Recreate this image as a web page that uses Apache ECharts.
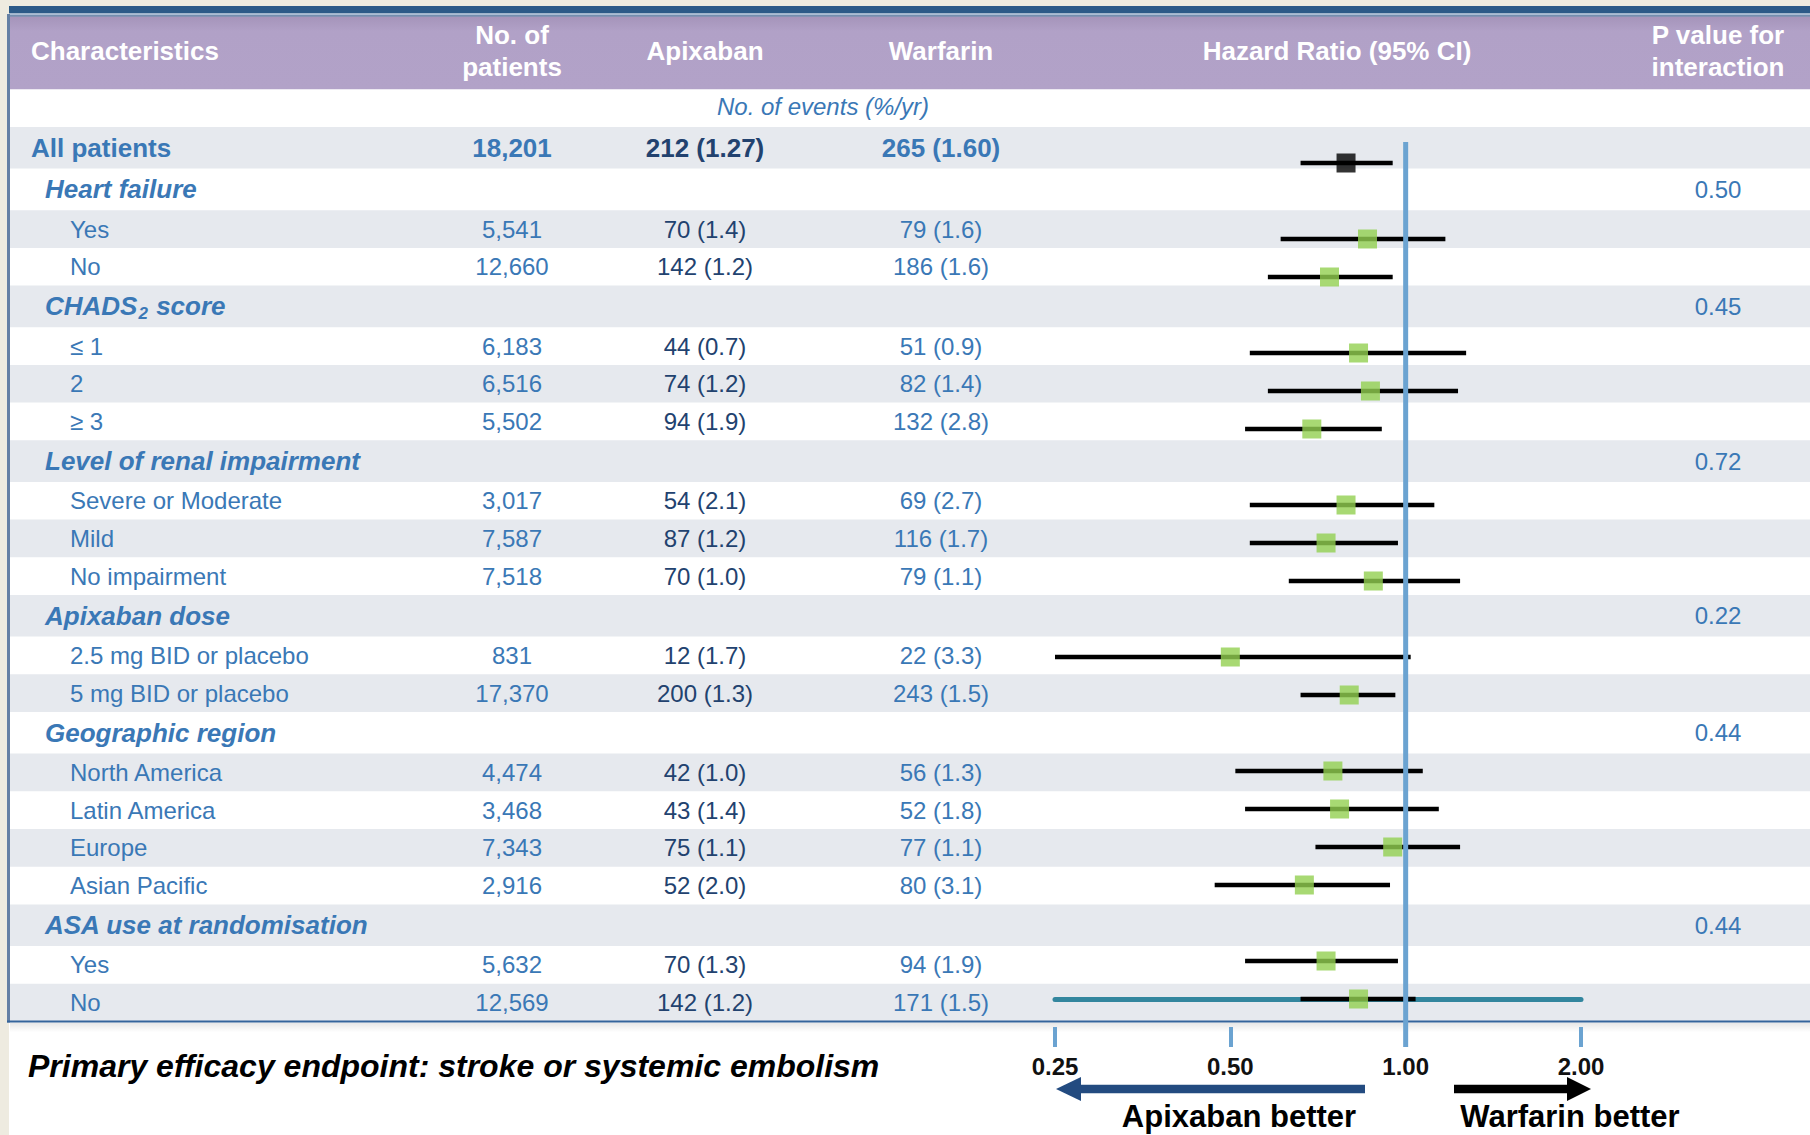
<!DOCTYPE html>
<html>
<head>
<meta charset="utf-8">
<title>Apixaban vs warfarin – subgroup analysis</title>
<script src="https://cdn.jsdelivr.net/npm/echarts@6/dist/echarts.min.js"></script>
<style>
  html, body { margin: 0; padding: 0; background: #ffffff; }
  #chart { width: 1810px; height: 1135px; }
</style>
</head>
<body>
<div id="chart"></div>
<script>
// ---------- data ----------
// {x} marks a subscript part of a label
const rowLabels = ['All patients', 'Heart failure', 'Yes', 'No', 'CHADS{2} score', '≤ 1', '2', '≥ 3',
  'Level of renal impairment', 'Severe or Moderate', 'Mild', 'No impairment',
  'Apixaban dose', '2.5 mg BID or placebo', '5 mg BID or placebo',
  'Geographic region', 'North America', 'Latin America', 'Europe', 'Asian Pacific',
  'ASA use at randomisation', 'Yes', 'No'];
const rowKinds = ['total', 'group', 'sub', 'sub', 'group', 'sub', 'sub', 'sub',
  'group', 'sub', 'sub', 'sub', 'group', 'sub', 'sub',
  'group', 'sub', 'sub', 'sub', 'sub', 'group', 'sub', 'sub'];
const patients = ['18,201', '', '5,541', '12,660', '', '6,183', '6,516', '5,502',
  '', '3,017', '7,587', '7,518', '', '831', '17,370',
  '', '4,474', '3,468', '7,343', '2,916', '', '5,632', '12,569'];
const apixabanEvents = ['212 (1.27)', '', '70 (1.4)', '142 (1.2)', '', '44 (0.7)', '74 (1.2)', '94 (1.9)',
  '', '54 (2.1)', '87 (1.2)', '70 (1.0)', '', '12 (1.7)', '200 (1.3)',
  '', '42 (1.0)', '43 (1.4)', '75 (1.1)', '52 (2.0)', '', '70 (1.3)', '142 (1.2)'];
const warfarinEvents = ['265 (1.60)', '', '79 (1.6)', '186 (1.6)', '', '51 (0.9)', '82 (1.4)', '132 (2.8)',
  '', '69 (2.7)', '116 (1.7)', '79 (1.1)', '', '22 (3.3)', '243 (1.5)',
  '', '56 (1.3)', '52 (1.8)', '77 (1.1)', '80 (3.1)', '', '94 (1.9)', '171 (1.5)'];
const pInteraction = ['', '0.50', '', '', '0.45', '', '', '', '0.72', '', '', '', '0.22', '', '',
  '0.44', '', '', '', '', '0.44', '', ''];
const hazardRatio = [0.79, null, 0.86, 0.74, null, 0.83, 0.87, 0.69, null, 0.79, 0.73, 0.88, null, 0.50, 0.80,
  null, 0.75, 0.77, 0.95, 0.67, null, 0.73, 0.83];
const ciLower = [0.66, null, 0.61, 0.58, null, 0.54, 0.58, 0.53, null, 0.54, 0.54, 0.63, null, 0.25, 0.66,
  null, 0.51, 0.53, 0.70, 0.47, null, 0.53, 0.66];
const ciUpper = [0.95, null, 1.17, 0.95, null, 1.27, 1.23, 0.91, null, 1.12, 0.97, 1.24, null, 1.02, 0.96,
  null, 1.07, 1.14, 1.24, 0.94, null, 0.97, 1.04];
const tickValues = [0.25, 0.5, 1, 2];
const tickLabels = ['0.25', '0.50', '1.00', '2.00'];
const referenceHR = 1;

// ---------- style ----------
const FONT = '"Liberation Sans", Arial, Helvetica, sans-serif';
const BLUE = '#3A78B6';
const NAVY = '#22426F';
const STRIPE = '#E6E9EE';
const W = 1810, H = 1135;
const LEFT = 10;
const BODY_TOP = 127;
const GROUP_H = 41.6, SUB_H = 37.7;
const COL = { label: 31, group: 45, sub: 70, patients: 512, apix: 705, warf: 941, hr: 1337, p: 1718 };

const measureCtx = document.createElement('canvas').getContext('2d');
function textWidth(str, font) { measureCtx.font = font; return measureCtx.measureText(str).width; }

function rect(x, y, w, h, fill, z) {
  return { type: 'rect', silent: true, z: z || -50, shape: { x, y, width: w, height: h }, style: { fill } };
}
function text(str, x, y, o) {
  return {
    type: 'text', silent: true, z: 10, x, y,
    style: {
      text: str, fill: o.color || BLUE, fontSize: o.size || 24, fontWeight: o.weight || 'normal',
      fontStyle: o.style || 'normal', fontFamily: FONT, align: o.align || 'left', verticalAlign: 'middle'
    }
  };
}

// ---------- table layout ----------
const rowTops = [];
let yCursor = BODY_TOP;
rowKinds.forEach(k => { rowTops.push(yCursor); yCursor += (k === 'sub') ? SUB_H : GROUP_H; });
const BODY_BOTTOM = yCursor;
const rowHeight = i => (rowKinds[i] === 'sub' ? SUB_H : GROUP_H);

const g = [];
g.push(rect(0, 0, W, H, '#ffffff', -100));
g.push(rect(0, 0, 9, H, '#EEEBE0', -90));
g.push(rect(0, 0, W, 6, '#EEEBE0', -90));
// top band and header
g.push(rect(LEFT - 1, 6, W, 7.5, '#2C5A88', -80));
g.push(rect(LEFT - 1, 13.5, W, 1.8, '#A9BCD4', -80));
g.push(rect(LEFT - 1, 15.3, W, 1.4, '#4C6E98', -80));
g.push({
  type: 'rect', silent: true, z: -80, shape: { x: LEFT, y: 16.7, width: W, height: 72.6 },
  style: { fill: new echarts.graphic.LinearGradient(0, 0, 0, 1, [
    { offset: 0, color: '#A594BA' }, { offset: 0.2, color: '#B1A1C7' }, { offset: 1, color: '#B2A2C8' }]) }
});
// row stripes
rowTops.forEach((t, i) => { if (i % 2 === 0) g.push(rect(LEFT, t, W, rowHeight(i), STRIPE, -70)); });
// borders
g.push(rect(7, 14, 3, BODY_BOTTOM - 13, '#6580A4', -60));
g.push(rect(7, BODY_BOTTOM - 1, W, 2.2, '#34649B', -60));
g.push({
  type: 'rect', silent: true, z: -65, shape: { x: LEFT, y: BODY_BOTTOM + 1, width: W, height: 10 },
  style: { fill: new echarts.graphic.LinearGradient(0, 0, 0, 1, [
    { offset: 0, color: 'rgba(0,0,0,0.10)' }, { offset: 1, color: 'rgba(0,0,0,0)' }]) }
});

// header text
const HW = { color: '#ffffff', size: 26, weight: 'bold' };
g.push(text('Characteristics', COL.label, 51, HW));
g.push(text('No. of', COL.patients, 35, Object.assign({ align: 'center' }, HW)));
g.push(text('patients', COL.patients, 67, Object.assign({ align: 'center' }, HW)));
g.push(text('Apixaban', COL.apix, 51, Object.assign({ align: 'center' }, HW)));
g.push(text('Warfarin', COL.warf, 51, Object.assign({ align: 'center' }, HW)));
g.push(text('Hazard Ratio (95% CI)', COL.hr, 51, Object.assign({ align: 'center' }, HW)));
g.push(text('P value for', COL.p, 35, Object.assign({ align: 'center' }, HW)));
g.push(text('interaction', COL.p, 67, Object.assign({ align: 'center' }, HW)));
g.push(text('No. of events (%/yr)', (COL.apix + COL.warf) / 2, 106, { style: 'italic', align: 'center' }));

// body text
rowLabels.forEach((label, i) => {
  const cy = rowTops[i] + rowHeight(i) / 2;
  const kind = rowKinds[i];
  if (kind === 'total') {
    const b = { size: 26, weight: 'bold' };
    g.push(text(label, COL.label, cy, b));
    g.push(text(patients[i], COL.patients, cy, Object.assign({ align: 'center' }, b)));
    g.push(text(apixabanEvents[i], COL.apix, cy, Object.assign({ align: 'center', color: NAVY }, b)));
    g.push(text(warfarinEvents[i], COL.warf, cy, Object.assign({ align: 'center' }, b)));
  } else if (kind === 'group') {
    const gs = { size: 26, weight: 'bold', style: 'italic' };
    const m = label.match(/^(.*)\{(.*)\}(.*)$/);
    if (m) {
      const f = 'italic bold 26px "Liberation Sans"';
      const w1 = textWidth(m[1], f);
      const w2 = textWidth(m[2], 'italic bold 17px "Liberation Sans"');
      g.push(text(m[1], COL.group, cy, gs));
      g.push(text(m[2], COL.group + w1 + 1, cy + 7, { size: 17, weight: 'bold', style: 'italic' }));
      g.push(text(m[3], COL.group + w1 + w2 + 2, cy, gs));
    } else {
      g.push(text(label, COL.group, cy, gs));
    }
    if (pInteraction[i]) g.push(text(pInteraction[i], COL.p, cy, { align: 'center' }));
  } else {
    g.push(text(label, COL.sub, cy, {}));
    g.push(text(patients[i], COL.patients, cy, { align: 'center' }));
    g.push(text(apixabanEvents[i], COL.apix, cy, { align: 'center', color: NAVY }));
    g.push(text(warfarinEvents[i], COL.warf, cy, { align: 'center' }));
  }
});

// footnote and direction arrows
g.push(text('Primary efficacy endpoint: stroke or systemic embolism', 28, 1066,
  { size: 32, weight: 'bold', style: 'italic', color: '#000000' }));
const ARROW_Y = 1089;
g.push(rect(1079, ARROW_Y - 4.3, 286, 8.6, '#234B80', 5));
g.push({ type: 'polygon', silent: true, z: 5, shape: { points: [[1056, ARROW_Y], [1081, ARROW_Y - 12], [1081, ARROW_Y + 12]] }, style: { fill: '#234B80' } });
g.push(rect(1454, ARROW_Y - 4.3, 115, 8.6, '#000000', 5));
g.push({ type: 'polygon', silent: true, z: 5, shape: { points: [[1591, ARROW_Y], [1567, ARROW_Y - 12], [1567, ARROW_Y + 12]] }, style: { fill: '#000000' } });
g.push(text('Apixaban better', 1239, 1116, { size: 31, weight: 'bold', color: '#000000', align: 'center' }));
g.push(text('Warfarin better', 1570, 1116, { size: 31, weight: 'bold', color: '#000000', align: 'center' }));

// ---------- forest series data ----------
const ciData = [];
const hrData = [];
hazardRatio.forEach((hr, i) => {
  if (hr == null) return;
  ciData.push([ciLower[i], ciUpper[i], i]);
  hrData.push({ value: [hr, i], itemStyle: { color: rowKinds[i] === 'total' ? '#000000' : '#92D050' } });
});

const axisBase = { type: 'log', logBase: 2, min: tickValues[0], max: tickValues[tickValues.length - 1],
  gridIndex: 0, position: 'bottom', splitLine: { show: false } };

const option = {
  animation: false,
  backgroundColor: '#ffffff',
  graphic: { elements: g },
  grid: { left: 1055, top: 144, width: 526, height: 874 },
  xAxis: [
    Object.assign({}, axisBase, {
      offset: -18.5,
      axisLine: { show: true, onZero: false, lineStyle: { color: '#33869E', width: 5 } },
      axisTick: { show: false }, axisLabel: { show: false }
    }),
    Object.assign({}, axisBase, {
      offset: 9,
      axisLine: { show: false, onZero: false },
      axisTick: { show: true, length: 20, lineStyle: { color: '#6BA3D1', width: 4 } },
      axisLabel: {
        margin: 27, fontSize: 24, fontWeight: 'bold', color: '#111111', fontFamily: FONT,
        formatter: v => { const k = tickValues.findIndex(t => Math.abs(t - v) < 1e-6); return k >= 0 ? tickLabels[k] : ''; }
      }
    })
  ],
  yAxis: { type: 'category', inverse: true, show: false, data: rowLabels.map((_, i) => String(i)) },
  series: [
    {
      type: 'custom', name: 'CI', z: 3, xAxisIndex: 0,
      encode: { x: [0, 1], y: 2 },
      data: ciData,
      renderItem: (params, api) => {
        const a = api.coord([api.value(0), api.value(2)]);
        const b = api.coord([api.value(1), api.value(2)]);
        return { type: 'line', shape: { x1: a[0], y1: a[1], x2: b[0], y2: b[1] }, style: { stroke: '#000000', lineWidth: 4.6 } };
      }
    },
    {
      type: 'custom', name: 'reference', z: 4, xAxisIndex: 0,
      encode: { x: 0, y: 1 },
      data: [[referenceHR, 0]],
      renderItem: (params, api) => {
        const x = api.coord([api.value(0), 0])[0];
        const cs = params.coordSys;
        return { type: 'line', shape: { x1: x, y1: cs.y - 2, x2: x, y2: cs.y + cs.height + 29 }, style: { stroke: '#6BA3D1', lineWidth: 5 } };
      }
    },
    {
      type: 'scatter', name: 'HR', z: 5, xAxisIndex: 0,
      symbol: 'rect', symbolSize: 19,
      data: hrData
    }
  ]
};

const chart = echarts.init(document.getElementById('chart'), null, { renderer: 'svg', width: W, height: H });
chart.setOption(option);
</script>
</body>
</html>
